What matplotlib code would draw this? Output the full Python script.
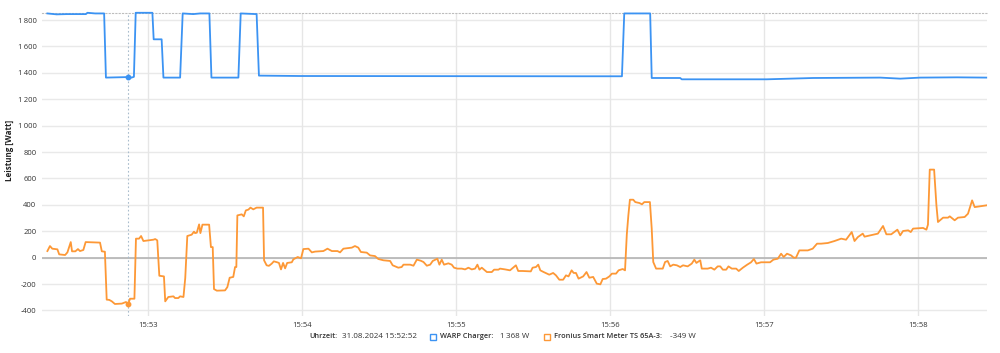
"""
Leistungsverlauf WARP Charger vs. Fronius Smart Meter (31.08.2024, 15:52-15:58).
"""

import matplotlib
matplotlib.use("Agg")
import matplotlib.pyplot as plt
from matplotlib.ticker import FixedLocator, FuncFormatter
from matplotlib.patches import Rectangle

FONT = ["Open Sans", "DejaVu Sans"]
plt.rcParams["font.family"] = FONT

# time axis: seconds after 15:52:00
X_MIN, X_MAX = 18.7, 386.8
tick_seconds = [60, 120, 180, 240, 300, 360]
tick_labels = ["15:53", "15:54", "15:55", "15:56", "15:57", "15:58"]
y_ticks = [-400, -200, 0, 200, 400, 600, 800, 1000, 1200, 1400, 1600, 1800]

# WARP Charger (W)
t_warp = [20.8, 24.4, 28.3, 35.8, 36.4, 39.4, 42.9, 43.6, 52.3, 53.6, 54.5, 55.2,
          61.7, 62.2, 65.3, 66.0, 72.5, 73.5, 77.6, 80.3, 83.9, 84.7, 95.2, 96.1,
          102.3, 103.2, 119.2, 228.3, 244.6, 245.5, 255.6, 256.2, 267.3, 267.9,
          301.0, 319.1, 345.2, 353.0, 360.8, 375.1, 386.5]
w_warp = [1850, 1843, 1845, 1845, 1855, 1850, 1850, 1364, 1368, 1364, 1370, 1855,
          1855, 1654, 1654, 1364, 1364, 1850, 1845, 1850, 1850, 1364, 1364, 1850,
          1845, 1379, 1376, 1374, 1374, 1850, 1850, 1361, 1361, 1351,
          1351, 1361, 1364, 1356, 1364, 1366, 1364]

# Fronius Smart Meter TS 65A-3 (W)
t_meter = [20.8, 21.8, 22.7, 24.7, 25.4, 27.7, 28.6, 29.9, 30.4, 31.7, 32.7, 33.5,
           34.8, 35.7, 41.3, 42.0, 43.2, 43.9, 44.9, 45.9, 47.1, 49.8, 51.4, 52.3,
           53.0, 54.7, 55.3, 56.5, 57.3, 58.2, 62.1, 62.8, 63.6, 64.4, 66.2, 66.7,
           67.9, 69.9, 70.5, 71.8, 72.5, 73.8, 74.5, 75.3, 77.0, 77.9, 78.3, 79.0,
           79.9, 80.4, 81.2, 83.8, 84.5, 85.2, 85.7, 86.8, 90.0, 90.9, 91.8, 93.2,
           93.9, 94.4, 94.8, 96.5, 97.3, 98.1, 99.1, 99.9, 101.0, 102.3, 104.8, 105.2,
           106.2, 107.1, 108.2, 109.0, 110.3, 111.0, 111.8, 112.6, 113.4, 114.2, 116.0, 116.6,
           118.3, 119.6, 120.5, 122.5, 123.8, 125.1, 128.3, 129.9, 131.6, 133.8, 134.8, 136.1,
           139.4, 140.6, 141.9, 142.9, 145.2, 146.5, 148.4, 149.7, 151.7, 154.3, 155.3, 157.5,
           158.8, 159.5, 162.1, 163.4, 164.7, 166.2, 167.3, 168.6, 169.9, 170.9, 172.7, 173.5,
           174.4, 175.3, 177.0, 178.3, 179.2, 180.5, 182.2, 183.5, 184.8, 186.1, 187.4, 188.3,
           189.1, 190.0, 192.0, 193.9, 194.8, 196.5, 197.1, 199.1, 201.0, 202.2, 203.3, 204.2,
           205.9, 209.1, 209.8, 211.1, 212.0, 212.8, 214.1, 216.3, 217.8, 218.9, 220.2, 221.7,
           222.8, 223.8, 225.0, 225.8, 226.7, 227.7, 229.5, 230.8, 231.9, 233.4, 234.8, 236.2,
           237.1, 238.4, 239.7, 240.7, 242.3, 243.3, 244.9, 245.8, 246.5, 247.1, 247.7, 249.0,
           249.8, 251.4, 252.4, 253.3, 255.5, 256.2, 256.8, 257.9, 260.5, 261.4, 262.4, 263.4,
           264.6, 266.0, 267.3, 268.4, 270.2, 271.8, 272.8, 273.6, 275.1, 275.7, 278.0, 279.3,
           280.6, 281.9, 282.9, 283.9, 285.2, 286.1, 287.4, 289.1, 290.1, 291.7, 293.4, 294.9,
           296.0, 297.0, 298.8, 302.3, 303.6, 305.3, 306.6, 307.6, 308.9, 310.5, 311.5, 312.4,
           313.7, 317.0, 318.9, 320.6, 322.2, 324.8, 327.4, 330.0, 331.9, 334.1, 335.2, 336.5,
           338.4, 339.1, 344.3, 346.3, 347.6, 349.5, 351.9, 353.0, 354.1, 356.1, 357.1, 358.0,
           361.9, 363.2, 363.8, 364.5, 366.2, 367.1, 367.7, 369.7, 371.6, 372.3, 374.2, 375.5,
           378.1, 379.4, 381.0, 382.0, 386.5]
w_meter = [50, 88, 68, 63, 25, 20, 40, 118, 48, 48, 65, 50,
           58, 118, 114, 48, 45, -318, -320, -331, -351, -348, -336, -349,
           -311, -311, 144, 144, 164, 126, 136, 141, 131, -137, -142, -331,
           -298, -293, -306, -306, -293, -298, -154, 164, 174, 197, 186, 189,
           252, 186, 250, 250, 80, 80, -238, -250, -248, -223, -152, -146,
           -71, -71, 320, 328, 313, 358, 364, 379, 366, 379, 379, -20,
           -58, -62, -45, -28, -35, -40, -89, -40, -81, -40, -35, -13,
           5, -5, 65, 68, 40, 46, 50, 68, 50, 50, 40, 68,
           76, 88, 76, 43, 38, 17, 12, -10, -20, -25, -58, -76,
           -71, -53, -53, -61, -15, -23, -33, -61, -53, -25, -8, -53,
           -15, -53, -43, -53, -76, -83, -83, -89, -76, -89, -83, -53,
           -91, -76, -109, -109, -91, -91, -83, -89, -96, -76, -58, -101,
           -101, -104, -76, -71, -53, -96, -109, -129, -116, -134, -167, -167,
           -134, -142, -96, -116, -116, -159, -142, -109, -152, -146, -197, -202,
           -162, -159, -142, -121, -121, -96, -86, -96, 177, 320, 439, 439,
           421, 414, 404, 421, 421, 220, -33, -83, -83, -33, -25, -66,
           -53, -58, -71, -58, -66, -45, -15, -40, -20, -83, -83, -76,
           -91, -66, -66, -91, -91, -66, -83, -83, -101, -76, -53, -35,
           -10, -45, -35, -35, -15, -8, 30, 5, 30, 17, 0, 0,
           55, 55, 68, 106, 106, 111, 126, 144, 136, 194, 126, 156,
           182, 159, 182, 240, 177, 177, 212, 169, 202, 207, 194, 220,
           225, 212, 250, 667, 667, 396, 270, 303, 303, 313, 283, 303,
           308, 333, 434, 383, 396]

cursor_time = 52.3
cursor_label = "31.08.2024 15:52:52"
cursor_warp = 1368
cursor_meter = -349

BLUE = "#3b93f3"
ORANGE = "#fd9836"


def fmt_watt(v):
    s = f"{abs(int(v)):,}".replace(",", "\u2009")
    return ("-" if v < 0 else "") + s


fig = plt.figure(figsize=(10, 3.53), dpi=100)
ax = fig.add_axes([0.042, 0.1048, 0.945, 0.8575])

ax.set_xlim(X_MIN, X_MAX)
ax.set_ylim(-442, 1851)

# grid
for y in y_ticks:
    ax.axhline(y, color="#e9e9e9", lw=1.0, zorder=0)
ax.axhline(0, color="#b4b4b4", lw=1.2, zorder=1)
for t in tick_seconds:
    ax.axvline(t, color="#e6e6e6", lw=1.0, zorder=0)

ax.plot(t_warp, w_warp, color=BLUE, lw=1.3, zorder=3, clip_on=False)
ax.plot(t_meter, w_meter, color=ORANGE, lw=1.3, zorder=3)

# cursor
ax.axvline(cursor_time, color="#a9bccc", lw=0.8, ls=(0, (1.5, 2)), zorder=2)
ax.plot([cursor_time], [cursor_warp], "o", ms=3.2, color=BLUE, zorder=4)
ax.plot([cursor_time], [cursor_meter], "o", ms=3.2, color=ORANGE, zorder=4)

for side in ["left", "right", "bottom"]:
    ax.spines[side].set_visible(False)
ax.spines["top"].set_linestyle((0, (1, 2)))
ax.spines["top"].set_color("#bdbdbd")
ax.spines["top"].set_linewidth(0.8)

ax.xaxis.set_major_locator(FixedLocator(tick_seconds))
ax.set_xticklabels(tick_labels)
ax.yaxis.set_major_locator(FixedLocator(y_ticks))
ax.yaxis.set_major_formatter(FuncFormatter(lambda v, p: fmt_watt(v)))
ax.tick_params(axis="both", length=0, labelsize=5.5, colors="#333333")
ax.tick_params(axis="y", pad=4)
ax.tick_params(axis="x", pad=4)

fig.text(0.009, 1 - 150 / 353, "Leistung [Watt]", rotation=90, ha="center", va="center",
         fontsize=5.8, fontweight="bold", color="#222222")

# bottom status line
yb = 1 - 337 / 353
txt = dict(va="center", color="#333333")
lab = dict(fontsize=5.3, fontweight="semibold", **txt)
val = dict(fontsize=5.8, **txt)
fig.text(0.309, yb, "Uhrzeit:", **lab)
fig.text(0.342, yb, cursor_label, **val)
fig.add_artist(Rectangle((0.4295, yb - 0.0095), 0.0068, 0.019, transform=fig.transFigure,
                         fill=False, edgecolor=BLUE, lw=1.0))
fig.text(0.4395, yb, "WARP Charger:", **lab)
fig.text(0.4995, yb, f"{fmt_watt(cursor_warp)} W", **val)
fig.add_artist(Rectangle((0.5435, yb - 0.0095), 0.0068, 0.019, transform=fig.transFigure,
                         fill=False, edgecolor=ORANGE, lw=1.0))
fig.text(0.5535, yb, "Fronius Smart Meter TS 65A-3:", **lab)
fig.text(0.670, yb, f"{fmt_watt(cursor_meter)} W", **val)

fig.savefig("out.png", dpi=100, facecolor="white")
